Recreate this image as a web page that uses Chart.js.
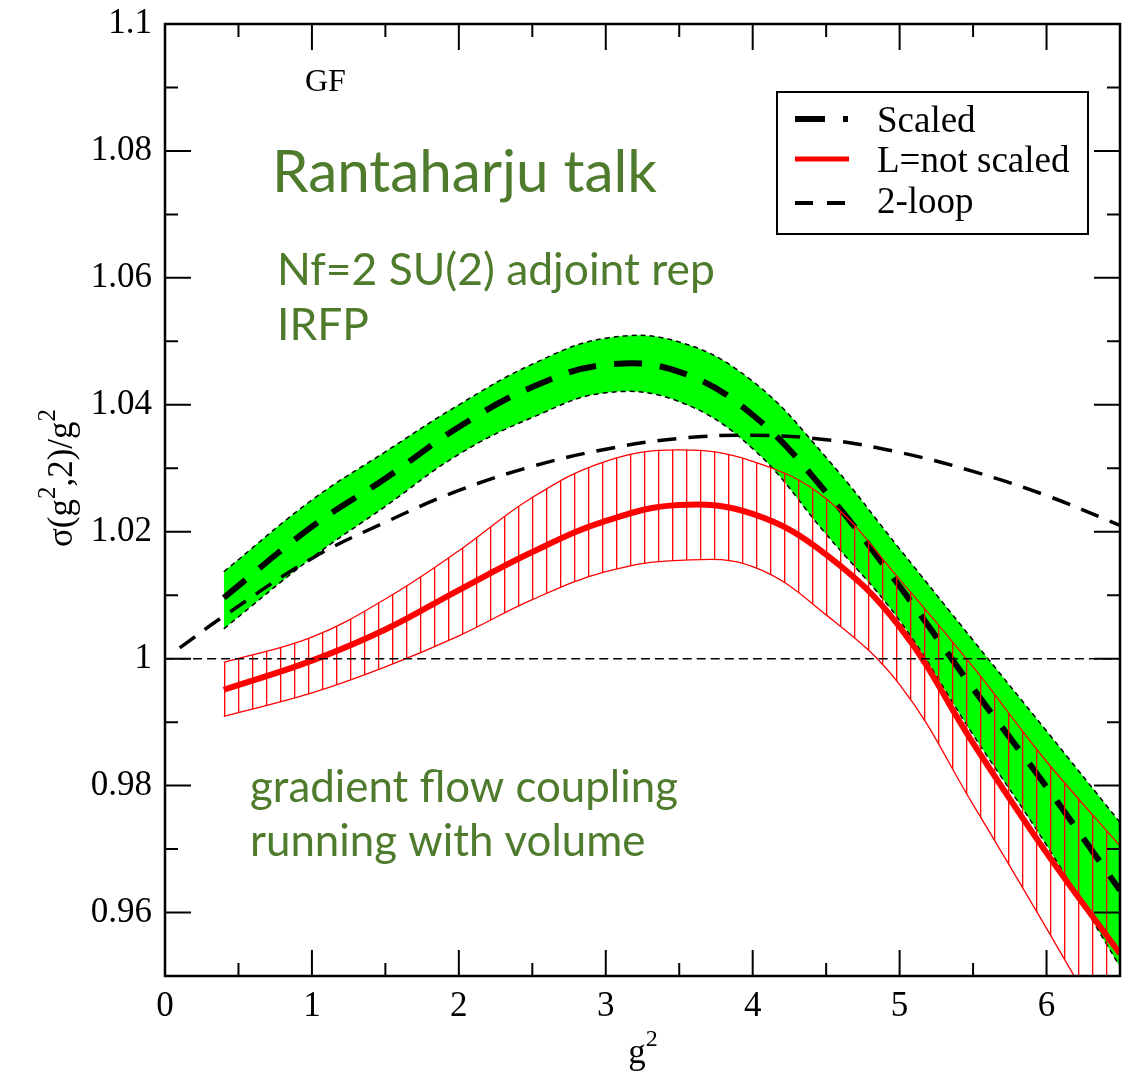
<!DOCTYPE html>
<html>
<head>
<meta charset="utf-8">
<script src="https://cdn.jsdelivr.net/npm/chart.js@4.4.1/dist/chart.umd.min.js"></script>
<style>
body{margin:0;background:#fff}
#wrap{width:1138px;height:1077px;position:relative}
</style>
</head>
<body>
<div id="wrap"><canvas id="chart"></canvas></div>
<script>
// values, g^2 on x
const gsq = [0.4, 1, 1.5, 2, 2.5, 3, 3.5, 4, 4.5, 5, 5.5, 6, 6.5]

const scaled   = [1.0096, 1.0208, 1.0284, 1.0365, 1.0428, 1.0463, 1.0452, 1.0384, 1.0262, 1.0114, 0.9953, 0.9798, 0.9635]
const scaledHi = [1.0137, 1.0250, 1.0326, 1.0400, 1.0464, 1.0505, 1.0499, 1.0437, 1.0317, 1.0173, 1.0029, 0.9886, 0.9742]
const scaledLo = [1.0047, 1.0159, 1.0240, 1.0322, 1.0380, 1.0419, 1.0405, 1.0331, 1.0196, 1.0060, 0.9880, 0.9706, 0.9515]

const notScaled   = [0.9951, 0.9997, 1.0046, 1.0108, 1.0168, 1.0217, 1.0242, 1.0228, 1.0164, 1.0050, 0.9867, 0.9694, 0.9535]
const notScaledHi = [0.9994, 1.0034, 1.0094, 1.0170, 1.0254, 1.0311, 1.0329, 1.0311, 1.0252, 1.0125, 0.9987, 0.9838, 0.9705]
const notScaledLo = [0.9909, 0.9946, 0.9987, 1.0036, 1.0093, 1.0137, 1.0155, 1.0145, 1.0069, 0.9959, 0.9770, 0.9575, 0.9375]

const loopX   = [0.1, 0.4, 1, 1.5, 2, 2.5, 3, 3.5, 4, 4.5, 5, 5.5, 6, 6.5]
const twoLoop = [1.0017, 1.0067, 1.0158, 1.0215, 1.0265, 1.0303, 1.0330, 1.0347, 1.0352, 1.0345, 1.0325, 1.0295, 1.0257, 1.0210]

const refX = [0, 6.5]
const refY = [1, 1]

const xTicks = [0, 1, 2, 3, 4, 5, 6]
const xMinor = [0.5, 1.5, 2.5, 3.5, 4.5, 5.5]
const yTicks = [0.96, 0.98, 1, 1.02, 1.04, 1.06, 1.08, 1.1]
const yTickLabels = ['0.96', '0.98', '1', '1.02', '1.04', '1.06', '1.08', '1.1']
const yMinor = [0.97, 0.99, 1.01, 1.03, 1.05, 1.07, 1.09]

const pts = (xs, ys) => xs.map((v, i) => ({x: v, y: ys[i]}))

// red vertical hatching for the unscaled band
const hc = document.createElement('canvas')
hc.width = 14; hc.height = 4
const hctx = hc.getContext('2d')
hctx.fillStyle = '#ff0000'
hctx.fillRect(0, 0, 1.3, 4)
const hatch = hctx.createPattern(hc, 'repeat')

const serif = 'Liberation Serif'
const green = '#4f7b2c'
const none = 'rgba(0,0,0,0)'

function fitFont(ctx, txt, family, width){
    ctx.font = `100px ${family}`
    return 100 * width / ctx.measureText(txt).width
}

// text with raised small "2" pieces: parts alternate normal / superscript
function supText(ctx, parts, x, y, size, supSize, rise){
    let cx = x
    parts.forEach((p, i) => {
        ctx.font = `${i % 2 ? supSize : size}px ${serif}`
        ctx.fillText(p, cx, i % 2 ? y - rise : y)
        cx += ctx.measureText(p).width
    })
    return cx - x
}
function supWidth(ctx, parts, size, supSize){
    let w = 0
    parts.forEach((p, i) => { ctx.font = `${i % 2 ? supSize : size}px ${serif}`; w += ctx.measureText(p).width })
    return w
}

const decor = {
    id: 'decor',
    afterDatasetsDraw(chart){
        const {ctx, chartArea: a, scales: {x, y}} = chart
        ctx.save()
        ctx.strokeStyle = '#000'
        ctx.lineWidth = 2
        ctx.beginPath()
        const tick = (vals, len, isX) => vals.forEach(v => {
            if(isX){
                const p = x.getPixelForValue(v)
                ctx.moveTo(p, a.bottom); ctx.lineTo(p, a.bottom - len)
                ctx.moveTo(p, a.top); ctx.lineTo(p, a.top + len)
            } else {
                const p = y.getPixelForValue(v)
                ctx.moveTo(a.left, p); ctx.lineTo(a.left + len, p)
                ctx.moveTo(a.right, p); ctx.lineTo(a.right - len, p)
            }
        })
        tick(xTicks.slice(1), 26, true)
        tick(xMinor, 13, true)
        tick(yTicks.slice(0, -1), 26, false)
        tick(yMinor, 13, false)
        ctx.stroke()
        ctx.lineWidth = 2.5
        ctx.strokeRect(a.left, a.top, a.right - a.left, a.bottom - a.top)

        // axis titles
        ctx.fillStyle = '#000'
        ctx.textAlign = 'left'
        ctx.textBaseline = 'alphabetic'
        const xt = ['g', '2']
        supText(ctx, xt, 643 - supWidth(ctx, xt, 35, 24) / 2, 1063, 35, 24, 17)
        const yt = ['σ(g', '2', ',2)/g', '2']
        ctx.save()
        ctx.translate(72, 478)
        ctx.rotate(-Math.PI / 2)
        supText(ctx, yt, -supWidth(ctx, yt, 35, 25) / 2, 0, 35, 25, 17)
        ctx.restore()

        // annotations
        ctx.font = `32px ${serif}`
        ctx.fillText('GF', 305, 91)
        ctx.fillStyle = green
        let s = fitFont(ctx, 'Rantaharju talk', 'Lato', 385)
        ctx.font = `${s}px Lato`
        ctx.fillText('Rantaharju talk', 272, 192)
        s = fitFont(ctx, 'Nf=2 SU(2) adjoint rep', 'Lato', 438)
        ctx.font = `${s}px Lato`
        ctx.fillText('Nf=2 SU(2) adjoint rep', 277, 285)
        ctx.fillText('IRFP', 277, 340)
        s = fitFont(ctx, 'gradient flow coupling', 'Lato', 428)
        ctx.font = `${s}px Lato`
        ctx.fillText('gradient flow coupling', 250, 802)
        ctx.fillText('running with volume', 250, 856)

        // legend
        ctx.fillStyle = '#fff'
        ctx.fillRect(777, 92, 311, 142)
        ctx.lineWidth = 2
        ctx.strokeStyle = '#000'
        ctx.strokeRect(777, 92, 311, 142)
        ctx.lineCap = 'butt'
        ctx.lineWidth = 6
        ctx.setLineDash([30, 18, 5, 100])
        ctx.beginPath(); ctx.moveTo(795, 119); ctx.lineTo(849, 119); ctx.stroke()
        ctx.strokeStyle = '#ff0000'
        ctx.lineWidth = 5
        ctx.setLineDash([])
        ctx.beginPath(); ctx.moveTo(795, 159); ctx.lineTo(849, 159); ctx.stroke()
        ctx.strokeStyle = '#000'
        ctx.lineWidth = 4
        ctx.setLineDash([18, 14])
        ctx.beginPath(); ctx.moveTo(795, 203); ctx.lineTo(849, 203); ctx.stroke()
        ctx.setLineDash([])
        ctx.fillStyle = '#000'
        ctx.font = `37px ${serif}`
        const names = [chart.data.datasets[6].label, chart.data.datasets[2].label, chart.data.datasets[1].label]
        ;[132, 172, 213].forEach((b, i) => ctx.fillText(names[i], 877, b))
        ctx.restore()
    }
}

new Chart(document.getElementById('chart'), {
    type: 'line',
    data: {
        datasets: [
            {label: 'ref', data: pts(refX, refY), borderColor: '#000', borderWidth: 1.5, borderDash: [9, 5], order: 0},
            {label: '2-loop', data: pts(loopX, twoLoop), borderColor: '#000', borderWidth: 3.5, borderDash: [19, 12], order: 1},
            {label: 'L=not scaled', data: pts(gsq, notScaled), borderColor: '#ff0000', borderWidth: 6, order: 2},
            {label: 'hiR', data: pts(gsq, notScaledHi), borderColor: '#ff0000', borderWidth: 1.3, order: 3},
            {label: 'loR', data: pts(gsq, notScaledLo), borderColor: '#ff0000', borderWidth: 1.3, order: 3},
            {label: 'hatch', data: pts(gsq, notScaledHi), borderColor: none, borderWidth: 1, fill: 4, backgroundColor: hatch, order: 4},
            {label: 'Scaled', data: pts(gsq, scaled), borderColor: '#000', borderWidth: 6, borderDash: [28, 18], order: 5},
            {label: 'hiG', data: pts(gsq, scaledHi), borderColor: '#000', borderWidth: 1.5, borderDash: [5, 4], order: 6},
            {label: 'loG', data: pts(gsq, scaledLo), borderColor: '#000', borderWidth: 1.5, borderDash: [5, 4], order: 6},
            {label: 'band', data: pts(gsq, scaledHi), borderColor: none, borderWidth: 1, fill: 8, backgroundColor: '#00ff00', order: 7}
        ]
    },
    options: {
        responsive: true,
        maintainAspectRatio: false,
        animation: false,
        layout: {padding: {top: 24, right: 18, left: 0, bottom: 0}},
        elements: {point: {radius: 0}, line: {tension: 0.4, fill: false}},
        plugins: {legend: {display: false}, tooltip: {enabled: false}},
        scales: {
            x: {
                type: 'linear', min: 0, max: 6.5,
                grid: {display: false, drawTicks: false},
                border: {display: false},
                afterBuildTicks: s => { s.ticks = xTicks.map(v => ({value: v})) },
                afterFit: s => { s.height = 101; s.paddingLeft = 0; s.paddingRight = 0 },
                ticks: {font: {family: serif, size: 35}, color: '#000', padding: 10, maxRotation: 0, autoSkip: false,
                        callback: v => String(v)}
            },
            y: {
                type: 'linear', min: 0.95, max: 1.1,
                grid: {display: false, drawTicks: false},
                border: {display: false},
                afterBuildTicks: s => { s.ticks = yTicks.map(v => ({value: v})) },
                afterFit: s => { s.width = 165; s.paddingTop = 0; s.paddingBottom = 0 },
                ticks: {font: {family: serif, size: 35}, color: '#000', padding: 13, autoSkip: false,
                        callback: (v, i) => yTickLabels[i]}
            }
        }
    },
    plugins: [decor]
})
</script>
</body>
</html>
